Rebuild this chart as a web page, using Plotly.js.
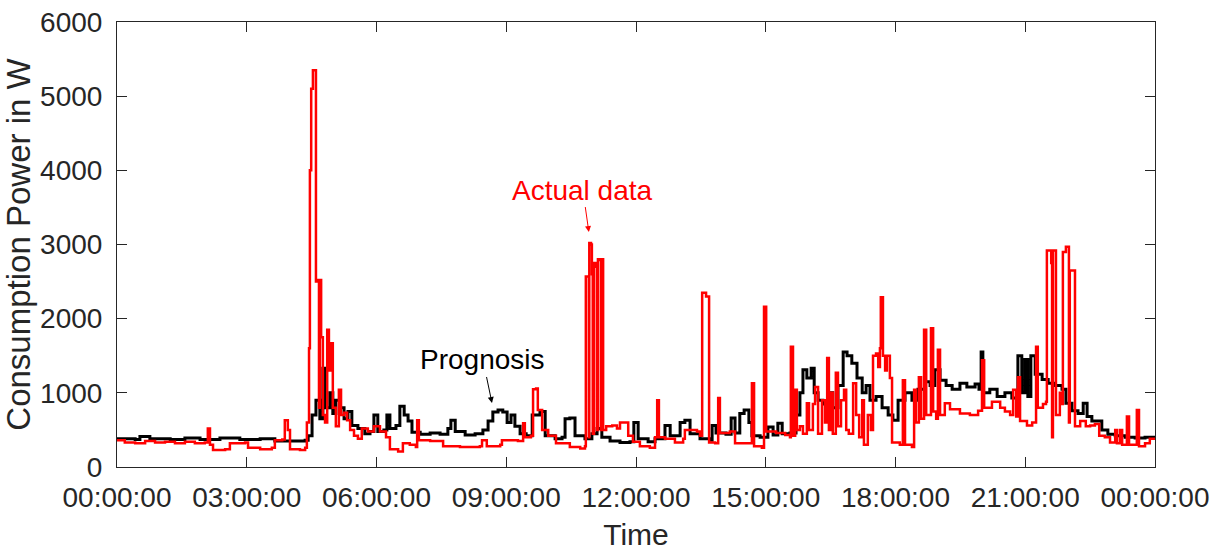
<!DOCTYPE html>
<html>
<head>
<meta charset="utf-8">
<script src="https://cdn.plot.ly/plotly-3.0.1.min.js"></script>
<style>html,body{margin:0;padding:0;background:#fff;}#chart{width:1217px;height:551px;}</style>
</head>
<body>
<div id="chart"></div>
<script>
// Time of day in hours (0..24)
const tickHours = [0, 3, 6, 9, 12, 15, 18, 21, 24];
const tickLabels = ["00:00:00","03:00:00","06:00:00","09:00:00","12:00:00","15:00:00","18:00:00","21:00:00","00:00:00"];

const progTime = [0,0.42,0.53,0.76,1.23,1.57,1.92,2.38,2.84,3.31,3.65,4.35,4.42,4.51,4.60,4.69,4.76,4.83,4.92,4.99,5.06,5.16,5.25,5.34,5.43,5.57,5.73,5.85,5.94,6.03,6.17,6.24,6.31,6.45,6.54,6.64,6.73,6.82,7.01,7.24,7.47,7.65,7.72,7.82,8.05,8.28,8.46,8.58,8.69,8.81,8.92,9.02,9.11,9.20,9.32,9.46,9.60,9.78,9.90,10.13,10.29,10.36,10.47,10.59,10.82,10.98,11.10,11.21,11.40,11.63,11.86,11.95,12.05,12.28,12.44,12.67,12.79,13.02,13.13,13.25,13.48,13.71,13.76,13.85,14.08,14.20,14.29,14.40,14.50,14.61,14.68,14.87,15.05,15.17,15.28,15.38,15.56,15.70,15.79,15.86,15.95,16.05,16.12,16.21,16.32,16.44,16.55,16.67,16.79,16.88,16.99,17.11,17.23,17.32,17.41,17.55,17.69,17.83,17.94,18.06,18.22,18.38,18.52,18.68,18.80,18.91,19.03,19.17,19.31,19.49,19.65,19.84,19.93,19.98,20.02,20.18,20.35,20.53,20.69,20.83,20.92,20.99,21.06,21.13,21.23,21.39,21.53,21.69,21.85,21.94,22.08,22.22,22.34,22.43,22.54,22.66,22.77,22.91,23.08,23.31,23.54,23.77,24.00];
const progPower = [380,370,410,380,370,390,370,390,370,380,350,360,420,700,900,650,1330,800,1000,720,900,800,650,750,560,520,450,480,700,480,500,700,520,560,820,700,620,470,440,460,440,520,630,480,430,450,500,620,740,770,740,600,700,550,450,420,700,750,420,380,400,650,660,420,380,450,520,400,350,330,340,600,380,340,380,560,420,600,630,450,380,360,560,460,440,660,460,720,770,600,420,400,540,430,590,450,460,700,1000,1310,1200,1330,1000,900,850,1000,800,1100,1550,1500,1400,1200,1000,1100,900,950,800,700,630,900,1000,900,1050,1150,1100,1310,1170,1100,1050,1130,1080,1120,1050,1550,1000,1050,950,1000,930,1500,1000,1450,950,1500,1250,1180,1130,1100,1050,860,760,720,860,680,620,620,500,440,420,400,390,400,380];

const actTime = [0,0.18,0.42,0.65,0.88,1.11,1.34,1.57,1.80,2.03,2.10,2.15,2.22,2.50,2.61,2.96,3.03,3.31,3.58,3.65,3.82,3.88,3.95,4.00,4.23,4.35,4.39,4.44,4.46,4.49,4.53,4.58,4.60,4.65,4.67,4.69,4.72,4.76,4.81,4.86,4.90,4.95,4.99,5.06,5.13,5.18,5.25,5.32,5.39,5.48,5.57,5.66,5.80,5.94,6.08,6.22,6.31,6.50,6.61,6.77,6.91,6.94,6.98,7.24,7.54,7.93,8.39,8.44,8.55,8.86,8.90,9.27,9.39,9.43,9.57,9.62,9.69,9.73,9.83,9.97,10.15,10.47,10.71,10.82,10.84,10.90,10.91,10.92,10.96,10.98,11.00,11.03,11.07,11.10,11.12,11.17,11.19,11.21,11.24,11.31,11.45,11.56,11.63,11.77,11.82,11.93,12.09,12.32,12.44,12.49,12.53,12.67,12.90,13.09,13.13,13.41,13.48,13.53,13.60,13.62,13.66,13.69,13.83,13.90,13.94,14.17,14.29,14.64,14.68,14.73,14.91,14.96,15.01,15.24,15.45,15.56,15.58,15.63,15.68,15.72,15.79,15.86,15.95,16.00,16.09,16.14,16.21,16.30,16.37,16.42,16.46,16.51,16.55,16.62,16.67,16.74,16.81,16.86,16.92,17.02,17.09,17.16,17.23,17.27,17.36,17.43,17.48,17.55,17.60,17.64,17.66,17.71,17.76,17.80,17.87,17.92,18.10,18.17,18.22,18.38,18.43,18.47,18.54,18.59,18.66,18.71,18.82,18.87,18.94,18.98,19.03,19.14,19.26,19.49,19.72,19.91,20.00,20.05,20.23,20.42,20.53,20.65,20.72,20.79,20.83,20.88,21.04,21.16,21.25,21.29,21.41,21.48,21.50,21.57,21.60,21.62,21.64,21.69,21.71,21.80,21.85,21.87,21.94,21.99,22.01,22.03,22.13,22.15,22.27,22.40,22.50,22.61,22.71,22.84,22.96,23.08,23.12,23.19,23.24,23.35,23.40,23.58,23.63,23.77,23.88,24.00];
const actPower = [360,330,320,350,330,340,320,340,320,330,520,300,230,240,320,330,260,240,260,360,370,630,500,240,230,260,600,1600,4000,5100,5350,5350,2500,2520,800,2520,1750,700,600,1850,1300,1670,800,550,1040,700,730,630,500,420,380,520,480,550,480,400,240,210,320,300,270,630,360,350,280,270,280,360,280,300,360,350,590,400,420,1050,1060,770,500,420,320,270,250,280,2570,2570,400,3020,3000,2600,450,2750,2700,500,2800,2790,500,2800,500,550,560,520,600,600,420,340,280,260,400,900,400,380,330,380,500,480,420,2350,2350,2300,2300,330,320,930,460,480,320,320,1130,280,260,2160,480,460,430,400,1620,420,1040,500,550,450,860,500,850,1080,450,900,600,1470,500,1000,450,1270,550,900,1040,500,450,1130,700,400,900,300,700,500,1500,1530,1350,1600,2290,1500,1300,1500,1200,330,300,1170,300,270,1040,600,1210,650,1850,700,1870,750,650,1580,700,860,780,720,700,760,1440,800,880,800,750,700,1040,680,1210,620,560,600,1620,800,850,880,2920,2920,2750,400,2920,2920,700,1000,850,2900,2970,2970,600,2650,2650,550,620,550,560,580,420,400,330,500,320,500,300,680,300,770,280,320,380,380];

const axisColor = '#262626';
const fontFam = 'Liberation Sans, Arial, sans-serif';

const traces = [
  {x: progTime, y: progPower, type: 'scatter', mode: 'lines', name: 'Prognosis',
   line: {color: '#000000', width: 3, shape: 'hv'}},
  {x: actTime, y: actPower, type: 'scatter', mode: 'lines', name: 'Actual data',
   line: {color: '#ff0000', width: 2.5, shape: 'hv'}}
];

const layout = {
  width: 1217, height: 551,
  margin: {l: 117, r: 62, t: 22, b: 84},
  paper_bgcolor: '#ffffff', plot_bgcolor: '#ffffff',
  showlegend: false,
  font: {family: fontFam, color: axisColor, size: 28},
  xaxis: {
    range: [0, 24], tickvals: tickHours, ticktext: tickLabels,
    ticks: 'inside', ticklen: 10, tickcolor: axisColor, tickwidth: 1,
    showline: true, linecolor: axisColor, linewidth: 1, mirror: 'ticks',
    showgrid: false, zeroline: false, ticklabelstandoff: 5,
    tickfont: {size: 28, color: axisColor, family: fontFam},
    title: {text: 'Time', font: {size: 30, color: axisColor, family: fontFam}, standoff: 19}
  },
  yaxis: {
    range: [0, 6000], tickvals: [0,1000,2000,3000,4000,5000,6000],
    ticks: 'inside', ticklen: 10, tickcolor: axisColor, tickwidth: 1,
    showline: true, linecolor: axisColor, linewidth: 1, mirror: 'ticks',
    showgrid: false, zeroline: false, ticklabelstandoff: 8,
    tickfont: {size: 28, color: axisColor, family: fontFam},
    title: {text: 'Consumption Power in W', font: {size: 33, color: axisColor, family: fontFam}, standoff: 0}
  },
  annotations: [
    {x: 8.67, y: 863, xref: 'x', yref: 'y', text: 'Prognosis', showarrow: true,
     ax: -9, ay: -43, arrowhead: 2, arrowsize: 1.2, arrowwidth: 1, arrowcolor: '#000000',
     font: {size: 28, color: '#000000', family: fontFam}},
    {x: 10.91, y: 3168, xref: 'x', yref: 'y', text: 'Actual data', showarrow: true,
     ax: -6, ay: -42, arrowhead: 2, arrowsize: 1.2, arrowwidth: 1, arrowcolor: '#ff0000',
     font: {size: 28, color: '#ff0000', family: fontFam}}
  ]
};

Plotly.newPlot('chart', traces, layout, {displayModeBar: false, staticPlot: true});
</script>
</body>
</html>
